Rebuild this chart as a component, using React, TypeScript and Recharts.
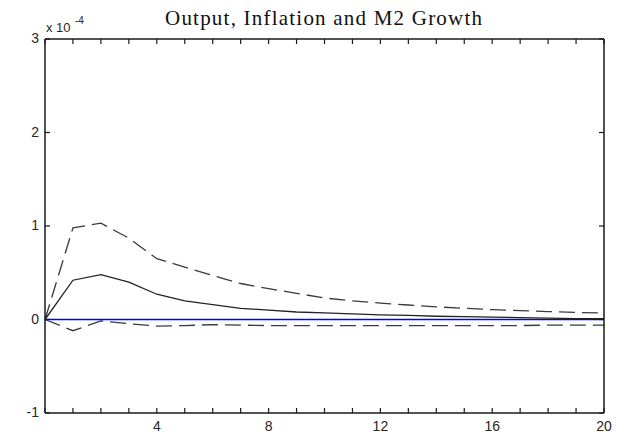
import React from 'react';
import { LineChart, Line, XAxis, YAxis } from 'recharts';

// impulse response horizon
const periods = [0, 1, 2, 3, 4, 5, 6, 7, 8, 9, 10, 11, 12, 13, 14, 15, 16, 17, 18, 19, 20];

// values in units of 1e-4
const response = [0, 0.42, 0.48, 0.4, 0.27, 0.2, 0.16, 0.12, 0.1, 0.08, 0.07, 0.06, 0.05, 0.045, 0.035, 0.03, 0.025, 0.02, 0.015, 0.01, 0.008];
const upperBand = [0, 0.98, 1.03, 0.87, 0.65, 0.56, 0.47, 0.385, 0.33, 0.28, 0.23, 0.2, 0.175, 0.155, 0.135, 0.12, 0.105, 0.095, 0.085, 0.075, 0.07];
const lowerBand = [0, -0.12, -0.015, -0.045, -0.07, -0.065, -0.055, -0.06, -0.065, -0.065, -0.065, -0.065, -0.065, -0.065, -0.065, -0.065, -0.065, -0.065, -0.06, -0.06, -0.06];
const zeroLine = [0, 0, 0, 0, 0, 0, 0, 0, 0, 0, 0, 0, 0, 0, 0, 0, 0, 0, 0, 0, 0];

const xTicks = periods;
const yTicks = [-1, 0, 1, 2, 3];

const data = periods.map((p, i) => ({
  period: p,
  response: response[i],
  upper: upperBand[i],
  lower: lowerBand[i],
  zero: zeroLine[i],
}));

const AXIS = '#1a1a1a';
const LABEL = '#262626';
const SANS = '"Liberation Sans", Arial, sans-serif';
const SERIF = '"Liberation Serif", "Times New Roman", serif';

const BottomTick = (props: any) => {
  const { x, y, payload } = props;
  const v = payload.value;
  return (
    <g>
      <line x1={x} x2={x} y1={y} y2={y - 5} stroke={AXIS} strokeWidth={1.2} />
      {v > 0 && v % 4 === 0 && (
        <text x={x} y={y + 18} textAnchor="middle" fontSize={14} fontFamily={SANS} fill={LABEL}>
          {v}
        </text>
      )}
    </g>
  );
};

const TopTick = (props: any) => {
  const { x, y } = props;
  return <line x1={x} x2={x} y1={y} y2={y + 5} stroke={AXIS} strokeWidth={1.2} />;
};

const LeftTick = (props: any) => {
  const { x, y, payload } = props;
  return (
    <g>
      <line x1={x} x2={x + 5} y1={y} y2={y} stroke={AXIS} strokeWidth={1.2} />
      <text x={x - 6} y={y + 4} textAnchor="end" fontSize={14} fontFamily={SANS} fill={LABEL}>
        {payload.value}
      </text>
    </g>
  );
};

const RightTick = (props: any) => {
  const { x, y } = props;
  return <line x1={x} x2={x - 5} y1={y} y2={y} stroke={AXIS} strokeWidth={1.2} />;
};

export default function App() {
  return (
    <div style={{ position: 'absolute', left: 0, top: 0, width: 622, height: 433, background: '#fff' }}>
      <LineChart width={622} height={433} data={data} margin={{ top: 9, right: 0, bottom: 0, left: 0 }}>
        <XAxis
          xAxisId="bottom"
          dataKey="period"
          type="number"
          domain={[0, 20]}
          ticks={xTicks}
          interval={0}
          height={20}
          tickSize={0}
          tickMargin={0}
          tickLine={false}
          axisLine={{ stroke: AXIS, strokeWidth: 1.5 }}
          tick={<BottomTick />}
        />
        <XAxis
          xAxisId="top"
          orientation="top"
          dataKey="period"
          type="number"
          domain={[0, 20]}
          ticks={xTicks}
          interval={0}
          height={30}
          tickSize={0}
          tickMargin={0}
          tickLine={false}
          axisLine={{ stroke: AXIS, strokeWidth: 1.5 }}
          tick={<TopTick />}
        />
        <YAxis
          yAxisId="left"
          type="number"
          domain={[-1, 3]}
          ticks={yTicks}
          interval={0}
          width={45}
          tickSize={0}
          tickMargin={0}
          tickLine={false}
          axisLine={{ stroke: AXIS, strokeWidth: 1.5 }}
          tick={<LeftTick />}
        />
        <YAxis
          yAxisId="right"
          orientation="right"
          type="number"
          domain={[-1, 3]}
          ticks={yTicks}
          interval={0}
          width={18}
          tickSize={0}
          tickMargin={0}
          tickLine={false}
          axisLine={{ stroke: AXIS, strokeWidth: 1.5 }}
          tick={<RightTick />}
        />
        <Line xAxisId="top" yAxisId="right" type="linear" dataKey="upper" stroke="#3a3a3a" strokeWidth={1.3} strokeDasharray="16 7" dot={false} isAnimationActive={false} />
        <Line xAxisId="bottom" yAxisId="left" type="linear" dataKey="lower" stroke="#3a3a3a" strokeWidth={1.3} strokeDasharray="16 7" dot={false} isAnimationActive={false} />
        <Line xAxisId="bottom" yAxisId="left" type="linear" dataKey="zero" stroke="#0000ff" strokeWidth={1.5} dot={false} isAnimationActive={false} />
        <Line xAxisId="bottom" yAxisId="left" type="linear" dataKey="response" stroke="#222" strokeWidth={1.3} dot={false} isAnimationActive={false} />
      </LineChart>
      <svg width={622} height={433} style={{ position: 'absolute', left: 0, top: 0, pointerEvents: 'none' }}>
        <text x={165} y={25} fontSize={21} fontFamily={SERIF} fill="#111" textLength={317} lengthAdjust="spacing">
          Output, Inflation and M2 Growth
        </text>
        <text x={46} y={32} fontSize={13} fontFamily={SANS} fill={LABEL}>
          x 10
        </text>
        <text x={75} y={24} fontSize={10} fontFamily={SANS} fill={LABEL}>
          -4
        </text>
      </svg>
    </div>
  );
}
